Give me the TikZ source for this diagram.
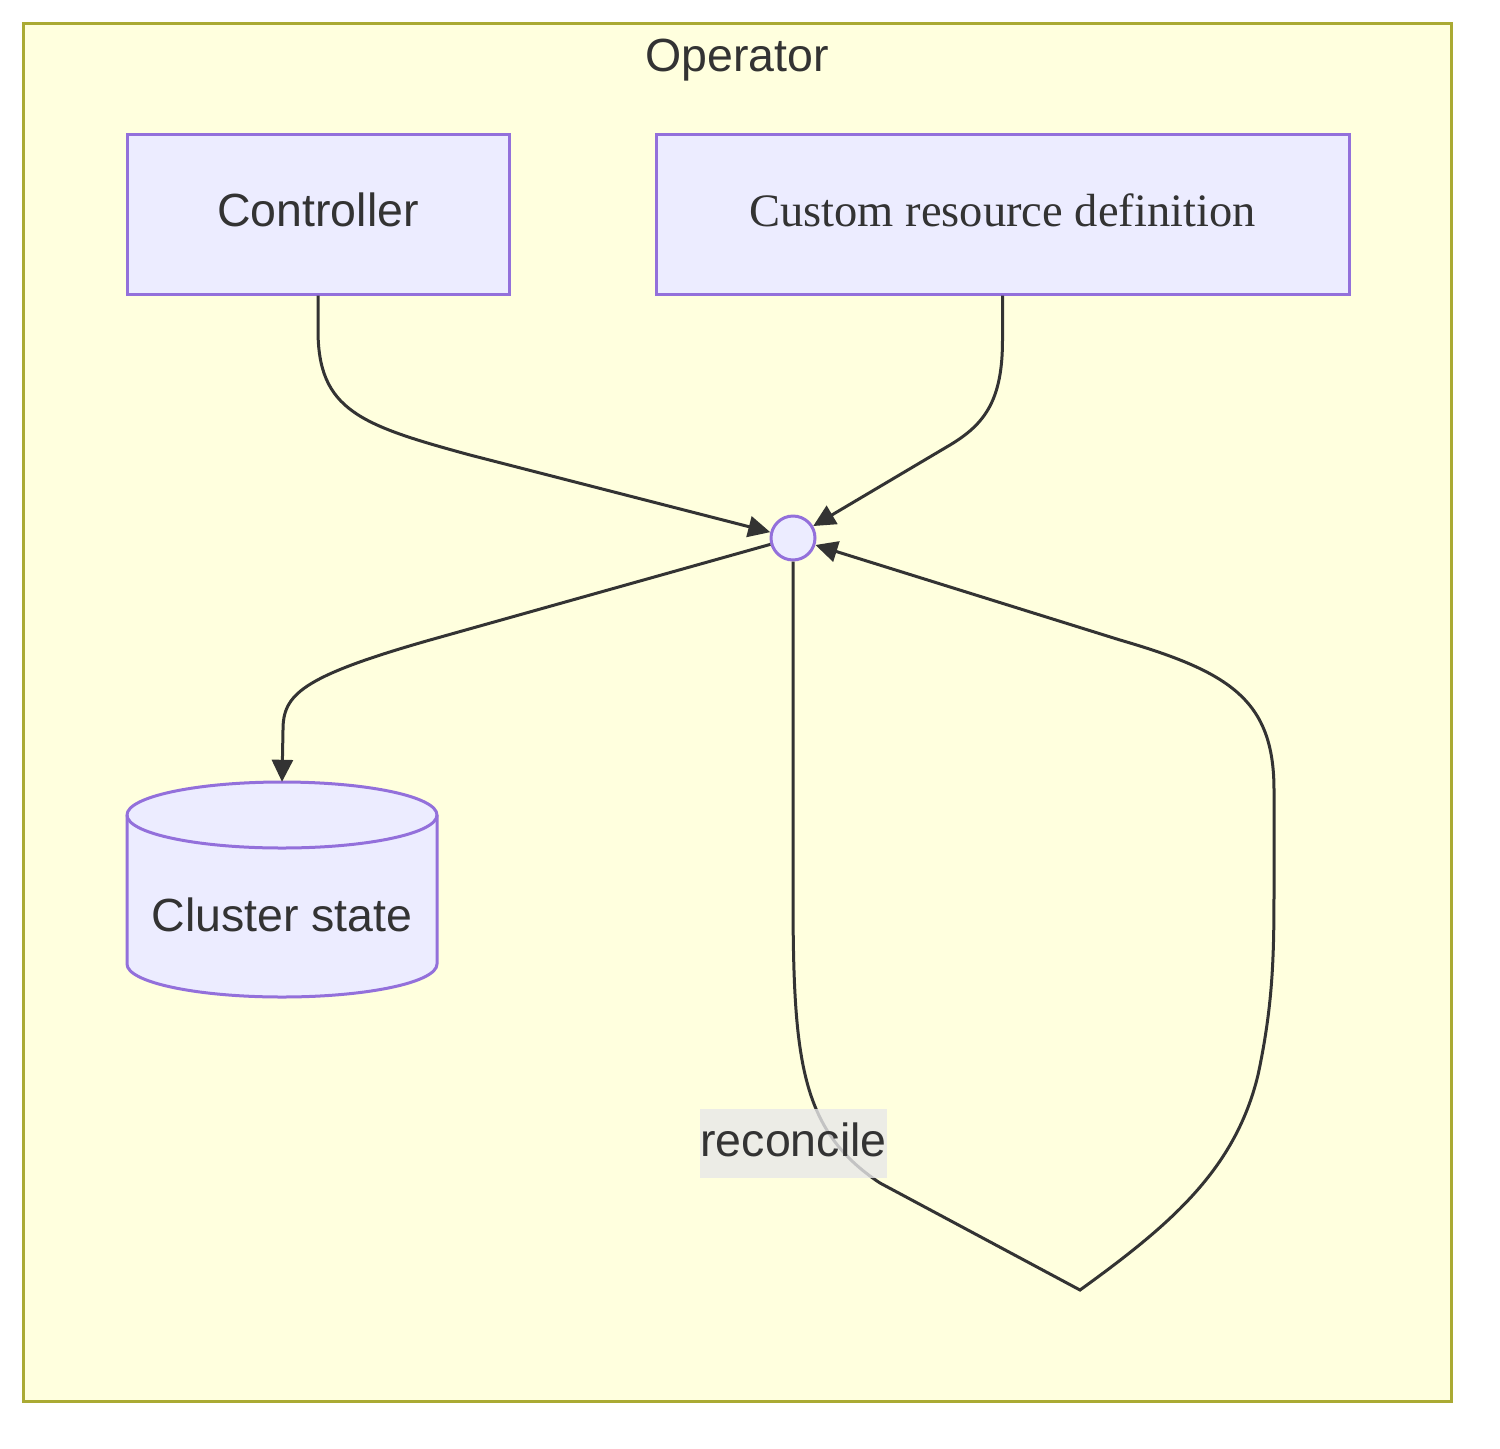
\documentclass[tikz,border=0pt]{standalone}
\usepackage{fontspec}
\setmainfont{Liberation Sans}
\newfontfamily\crdfont{Liberation Serif}
\usetikzlibrary{arrows.meta}
\definecolor{txt}{HTML}{333333}
\definecolor{nodefill}{HTML}{ECECFF}
\definecolor{nodeline}{HTML}{9370DB}
\definecolor{clfill}{HTML}{FFFFDE}
\definecolor{clline}{HTML}{AAAA33}
\definecolor{lblfill}{HTML}{E8E8E8}
\tikzset{
  txtfont/.style={font=\fontsize{46.5pt}{56pt}\selectfont, text=txt},
  procbox/.style={draw=nodeline, fill=nodefill, line width=3pt, rectangle,
    txtfont, text height=37pt, text depth=11.6pt, inner sep=0pt},
  junction/.style={draw=nodeline, fill=nodefill, line width=3pt, circle,
    minimum size=44pt, inner sep=0pt},
  edge/.style={draw=txt, line width=3pt, -{Triangle[length=22pt,width=21pt]}},
  lbl/.style={txtfont, fill=lblfill, fill opacity=0.8, text opacity=1,
    text height=37pt, text depth=11.6pt, inner xsep=0.5pt, inner ysep=10pt}
}
\begin{document}
\begin{tikzpicture}[x=1pt,y=1pt]
\useasboundingbox (0,0) rectangle (1500,-1449);
\fill[white] (0,0) rectangle (1500,-1449);
% cluster
\draw[fill=clfill, draw=clline, line width=3pt] (23,-23) rectangle (1451,-1401);
\node[txtfont, anchor=base] (optitle) at (737,-71) {Operator};
% nodes
\node[procbox, minimum width=382pt, minimum height=160pt] (ctrl) at (318,-214) {Controller};
\node[procbox, minimum width=693pt, minimum height=160pt] (crd) at (1002.5,-214) {\crdfont Custom resource definition};
\node[junction] (circ) at (793,-538) {};
% cylinder
\filldraw[draw=nodeline, fill=nodefill, line width=3pt]
  (127,-815) -- (127,-964) arc (180:360:155pt and 33pt) -- (437,-815)
  arc (0:180:155pt and 33pt) -- cycle;
\draw[draw=nodeline, line width=3pt] (127,-815) arc (180:360:155pt and 33pt);
\node[minimum width=310pt, minimum height=215pt, inner sep=0pt] (cyl) at (282,-889.5) {};
\node[txtfont, anchor=base] (cyltext) at (282,-931.7) {Cluster state};
% edges
\draw[edge] (ctrl.south) -- (318,-330) .. controls (318,-410) and (360,-425) .. (470,-455) -- (circ);
\draw[edge] (crd.south) -- (1002.5,-340) .. controls (1002.5,-400) and (985,-424) .. (950,-445) -- (circ);
\draw[edge] (circ) -- (430,-640) .. controls (300,-677) and (283,-695) .. (283,-730) -- (cyl.north);
\draw[edge] (circ.south) -- (793,-890) .. controls (793,-1060) and (800,-1130) .. (880,-1183)
  -- (1080,-1290) .. controls (1170,-1225) and (1235,-1170) .. (1258,-1075)
  .. controls (1274,-1000) and (1274,-950) .. (1274,-880) -- (1274,-790)
  .. controls (1274,-700) and (1230,-672) .. (1120,-640) -- (circ);
\node[lbl] (rec) at (793.5,-1143.5) {reconcile};
\end{tikzpicture}
\end{document}
